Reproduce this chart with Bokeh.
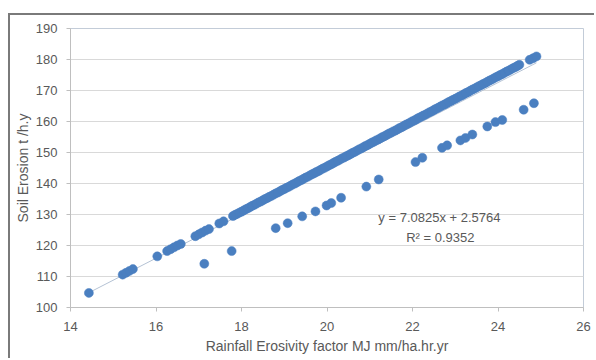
from bokeh.plotting import figure
from bokeh.models import Range1d, FixedTicker, Label
from bokeh.embed import file_html
from bokeh.resources import INLINE

# ---- data ----
upper_x = [14.43, 15.22, 15.30, 15.38, 15.46, 16.03, 16.26, 16.34, 16.42, 16.50, 16.58,
           16.92, 17.00, 17.08, 17.16, 17.24, 17.48, 17.58,
           17.8, 17.9, 18.0, 18.1, 18.2, 18.3, 18.4, 18.5, 18.6, 18.7, 18.8, 18.9,
           19.0, 19.1, 19.2, 19.3, 19.4, 19.5, 19.6, 19.7, 19.8, 19.9,
           20.0, 20.1, 20.2, 20.3, 20.4, 20.5, 20.6, 20.7, 20.8, 20.9,
           21.0, 21.1, 21.2, 21.3, 21.4, 21.5, 21.6, 21.7, 21.8, 21.9,
           22.0, 22.1, 22.2, 22.3, 22.4, 22.5, 22.6, 22.7, 22.8, 22.9,
           23.0, 23.1, 23.2, 23.3, 23.4, 23.5, 23.6, 23.7, 23.8, 23.9,
           24.0, 24.1, 24.2, 24.3, 24.4, 24.5, 24.74, 24.82, 24.90]
upper_y = [104.7, 110.6, 111.2, 111.8, 112.4, 116.5, 118.2, 118.8, 119.4, 120.0, 120.5,
           123.0, 123.6, 124.2, 124.8, 125.3, 127.1, 127.8,
           129.5, 130.2, 130.9, 131.7, 132.4, 133.1, 133.9, 134.6, 135.3, 136.0, 136.8, 137.5,
           138.2, 138.9, 139.7, 140.4, 141.1, 141.9, 142.6, 143.3, 144.0, 144.8,
           145.5, 146.2, 147.0, 147.7, 148.4, 149.1, 149.9, 150.6, 151.3, 152.1,
           152.8, 153.5, 154.2, 155.0, 155.7, 156.4, 157.1, 157.9, 158.6, 159.3,
           160.1, 160.8, 161.5, 162.2, 163.0, 163.7, 164.4, 165.2, 165.9, 166.6,
           167.3, 168.1, 168.8, 169.5, 170.3, 171.0, 171.7, 172.4, 173.2, 173.9,
           174.6, 175.3, 176.1, 176.8, 177.5, 178.3, 179.9, 180.4, 181.0]
upper_dense_x = [17.85, 17.95, 18.05, 18.15, 18.25, 18.35, 18.45, 18.55, 18.65, 18.75,
                 18.85, 18.95, 19.05, 19.15, 19.25, 19.35, 19.45, 19.55, 19.65, 19.75,
                 19.85, 19.95, 20.05, 20.15, 20.25, 20.35, 20.45, 20.55, 20.65, 20.75,
                 20.85, 20.95, 21.05, 21.15, 21.25, 21.35, 21.45, 21.55, 21.65, 21.75,
                 21.85, 21.95, 22.05, 22.15, 22.25, 22.35, 22.45, 22.55, 22.65, 22.75,
                 22.85, 22.95, 23.05, 23.15, 23.25, 23.35, 23.45, 23.55, 23.65, 23.75,
                 23.85, 23.95, 24.05, 24.15, 24.25, 24.35, 24.45]
upper_dense_y = [129.9, 130.6, 131.3, 132.0, 132.8, 133.5, 134.2, 135.0, 135.7, 136.4,
                 137.1, 137.9, 138.6, 139.3, 140.0, 140.8, 141.5, 142.2, 143.0, 143.7,
                 144.4, 145.1, 145.9, 146.6, 147.3, 148.1, 148.8, 149.5, 150.2, 151.0,
                 151.7, 152.4, 153.2, 153.9, 154.6, 155.3, 156.1, 156.8, 157.5, 158.2,
                 159.0, 159.7, 160.4, 161.2, 161.9, 162.6, 163.3, 164.1, 164.8, 165.5,
                 166.3, 167.0, 167.7, 168.4, 169.2, 169.9, 170.6, 171.4, 172.1, 172.8,
                 173.5, 174.3, 175.0, 175.7, 176.4, 177.2, 177.9]
lower_x = [17.13, 17.77, 18.80, 19.08, 19.42, 19.73, 19.99, 20.10, 20.33, 20.92, 21.21,
           22.07, 22.23, 22.69, 22.81, 23.12, 23.24, 23.40, 23.75, 23.94, 24.10, 24.60, 24.84]
lower_y = [114.1, 118.2, 125.6, 127.2, 129.4, 131.0, 132.9, 133.7, 135.4, 139.0, 141.3,
           146.9, 148.3, 151.5, 152.3, 153.9, 154.7, 155.8, 158.4, 159.8, 160.5, 163.8, 165.9]

trend_slope = 7.0825
trend_intercept = 2.5764
r_squared = 0.9352
x_ticks = [14, 16, 18, 20, 22, 24, 26]
y_ticks = [100, 110, 120, 130, 140, 150, 160, 170, 180, 190]
x_title = "Rainfall Erosivity factor MJ mm/ha.hr.yr"
y_title = "Soil Erosion t /h.y"
eq_text = "y = 7.0825x + 2.5764"
r2_text = "R\u00b2 = 0.9352"

FONT = "Liberation Sans"
GREY = "#595959"
BLUE = "#4a7fc0"

p = figure(width=586, height=345, output_backend="svg", toolbar_location=None,
           x_range=Range1d(x_ticks[0], x_ticks[-1]), y_range=Range1d(y_ticks[0], y_ticks[-1]),
           min_border_left=60, min_border_right=13, min_border_top=13, min_border_bottom=53,
           background_fill_color="white", border_fill_color="white")
# outer chart-area border (top and left edges visible in the reference)
p.styles = {"border-left": "2px solid #7a7a7a", "border-top": "2px solid #7a7a7a",
            "margin-left": "8px", "margin-top": "13px"}

p.outline_line_color = "#c3ccd8"
p.outline_line_width = 1

p.xgrid.visible = False
p.ygrid.grid_line_color = "#d9d9d9"
p.ygrid.grid_line_width = 1

p.xaxis.ticker = FixedTicker(ticks=x_ticks)
p.yaxis.ticker = FixedTicker(ticks=y_ticks)
for ax in (p.xaxis, p.yaxis):
    ax.axis_line_color = "#bfbfbf"
    ax.major_tick_line_color = "#bfbfbf"
    ax.major_tick_out = 4
    ax.major_tick_in = 0
    ax.minor_tick_line_color = None
    ax.major_label_text_font = FONT
    ax.major_label_text_font_size = "13px"
    ax.major_label_text_color = GREY
    ax.axis_label_text_font = FONT
    ax.axis_label_text_font_size = "14px"
    ax.axis_label_text_font_style = "normal"
    ax.axis_label_text_color = GREY
p.xaxis.major_label_standoff = 10
p.yaxis.major_label_standoff = 9
p.xaxis.axis_label = x_title
p.yaxis.axis_label = y_title
p.xaxis.axis_label_standoff = 4
p.yaxis.axis_label_standoff = 2

all_x = upper_x + upper_dense_x + lower_x
all_y = upper_y + upper_dense_y + lower_y

# trendline from the fitted equation across the data's x extent
x0, x1 = min(all_x), max(all_x)
p.line([x0, x1], [trend_slope * x0 + trend_intercept, trend_slope * x1 + trend_intercept],
       line_color="#b4c2d4", line_width=1)

p.scatter(all_x, all_y, size=9, fill_color=BLUE, line_color=BLUE, line_width=0.5)

p.add_layout(Label(x=22.63, y=129.0, text=eq_text, text_align="center", text_baseline="middle",
                   text_font=FONT, text_font_size="13px", text_color=GREY))
p.add_layout(Label(x=22.65, y=122.6, text=r2_text, text_align="center", text_baseline="middle",
                   text_font=FONT, text_font_size="13px", text_color=GREY))

open("out.html", "w").write(file_html(p, INLINE))
